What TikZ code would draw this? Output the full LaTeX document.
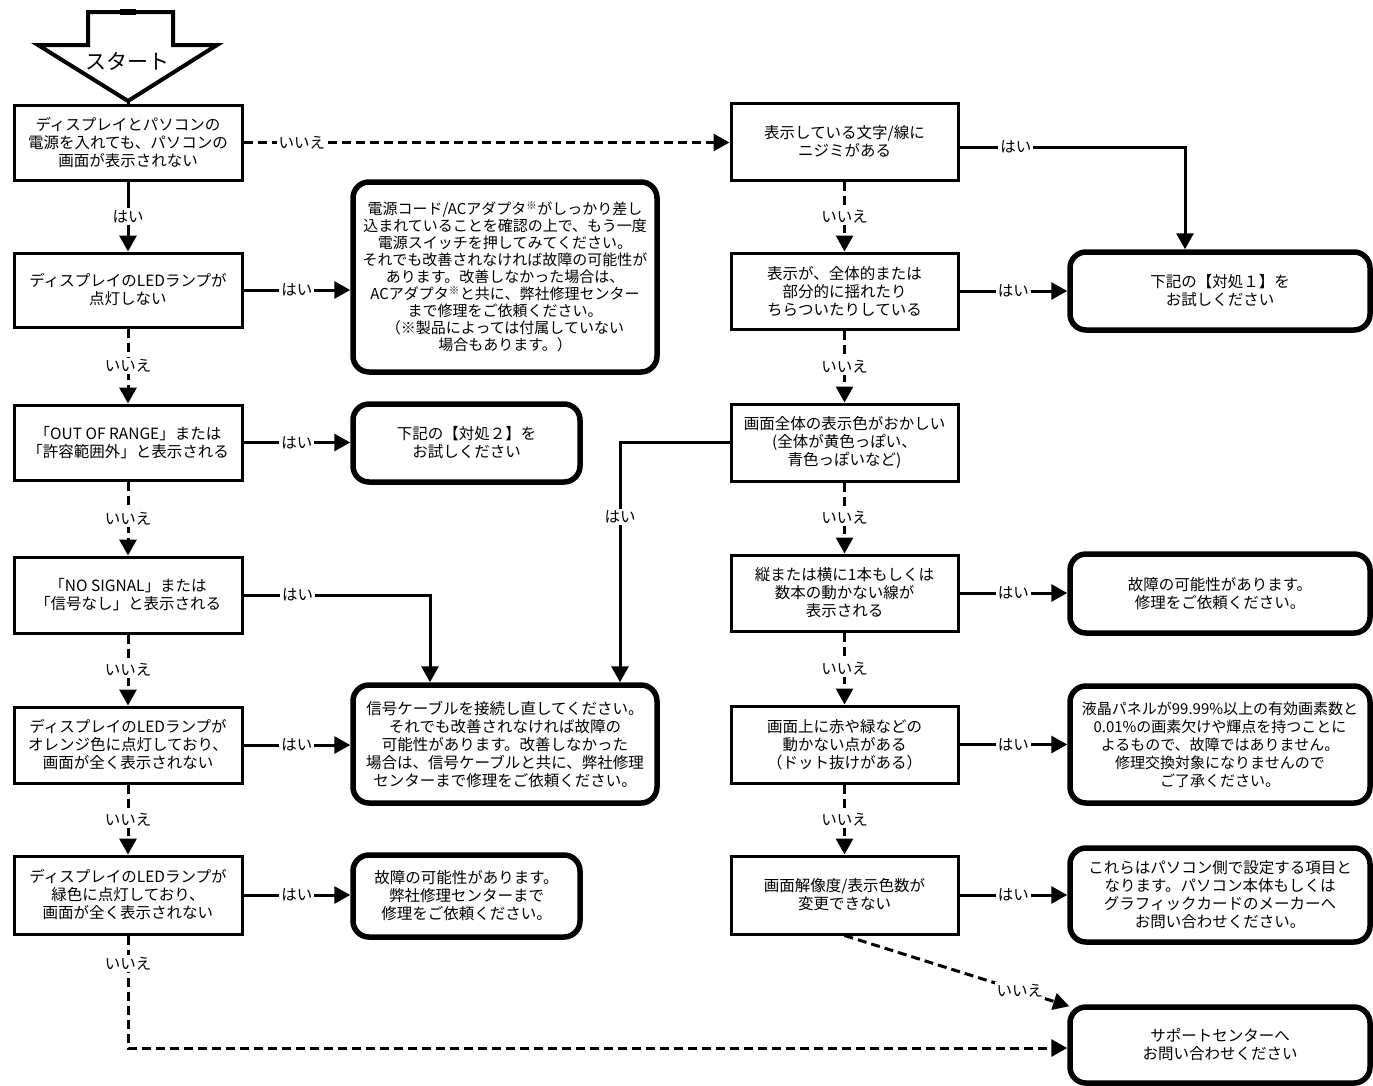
\documentclass[tikz,border=0pt]{standalone}
\usepackage{fontspec}
\setmainfont{Noto Sans CJK JP}
\usetikzlibrary{arrows.meta,calc}
\begin{document}
\begin{tikzpicture}[x=1pt,y=-1pt,
  every node/.style={font=\fontsize{15.5}{18}\selectfont, align=center},
  qbox/.style={draw, line width=3pt, rectangle, inner sep=2pt},
  rbox/.style={draw, line width=5.5pt, rectangle, rounded corners=16pt, inner sep=2pt},
  lbl/.style={fill=white, inner sep=2pt},
  conn/.style={line width=3pt, -{Triangle[length=16pt,width=17pt]}},
  plain/.style={line width=3pt},
  dconn/.style={line width=3pt, dash pattern=on 9pt off 5pt, -{Triangle[length=16pt,width=17pt]}}
]
\useasboundingbox (0,0) rectangle (1373,1085);
% start arrow
\draw[line width=4pt, line join=miter] (88,12) -- (173,12) -- (173,45) -- (217,45) -- (128,101) -- (38,45) -- (88,45) -- cycle;
\draw[line width=6pt] (120,12) -- (136,12);
\node[font=\fontsize{21}{24}\selectfont] (start) at (127,61) {スタート};
\coordinate (tip) at (128,101);

% left column
\node[qbox, minimum width=228, minimum height=75] (b1) at (128,142.5) {ディスプレイとパソコンの\\電源を入れても、パソコンの\\画面が表示されない};
\node[qbox, minimum width=228, minimum height=74] (b2) at (128,290) {ディスプレイのLEDランプが\\点灯しない};
\node[qbox, minimum width=228, minimum height=75] (b3) at (128,442.5) {「OUT OF RANGE」または\\「許容範囲外」と表示される};
\node[qbox, minimum width=228, minimum height=76] (b4) at (128,595) {「NO SIGNAL」または\\「信号なし」と表示される};
\node[qbox, minimum width=228, minimum height=76] (b5) at (128,745) {ディスプレイのLEDランプが\\オレンジ色に点灯しており、\\画面が全く表示されない};
\node[qbox, minimum width=228, minimum height=78] (b6) at (128,895) {ディスプレイのLEDランプが\\緑色に点灯しており、\\画面が全く表示されない};

% middle results
\node[rbox, minimum width=304, minimum height=190, font=\fontsize{15}{17}\selectfont] (p1) at (505,277) {電源コード/ACアダプタ\textsuperscript{※}がしっかり差し\\込まれていることを確認の上で、もう一度\\電源スイッチを押してみてください。\\それでも改善されなければ故障の可能性が\\あります。改善しなかった場合は、\\ACアダプタ\textsuperscript{※}と共に、弊社修理センター\\まで修理をご依頼ください。\\（※製品によっては付属していない\\場合もあります。）};
\node[rbox, minimum width=227, minimum height=78] (p2) at (466.5,443) {下記の【対処２】を\\お試しください};
\node[rbox, minimum width=304, minimum height=118] (p3) at (505,744) {信号ケーブルを接続し直してください。\\それでも改善されなければ故障の\\可能性があります。改善しなかった\\場合は、信号ケーブルと共に、弊社修理\\センターまで修理をご依頼ください。};
\node[rbox, minimum width=227, minimum height=82] (p4) at (466.5,896) {故障の可能性があります。\\弊社修理センターまで\\修理をご依頼ください。};

% right column
\node[qbox, minimum width=227, minimum height=77] (r1) at (844.5,141.5) {表示している文字/線に\\ニジミがある};
\node[qbox, minimum width=227, minimum height=76] (r2) at (844.5,291) {表示が、全体的または\\部分的に揺れたり\\ちらついたりしている};
\node[qbox, minimum width=227, minimum height=77] (r3) at (844.5,442.5) {画面全体の表示色がおかしい\\(全体が黄色っぽい、\\青色っぽいなど)};
\node[qbox, minimum width=227, minimum height=76] (r4) at (844.5,593) {縦または横に1本もしくは\\数本の動かない線が\\表示される};
\node[qbox, minimum width=227, minimum height=77] (r5) at (844.5,744.5) {画面上に赤や緑などの\\動かない点がある\\（ドット抜けがある）};
\node[qbox, minimum width=227, minimum height=78] (r6) at (844.5,895) {画面解像度/表示色数が\\変更できない};

% right results
\node[rbox, minimum width=300, minimum height=78] (q1) at (1220,291) {下記の【対処１】を\\お試しください};
\node[rbox, minimum width=300, minimum height=79] (q2) at (1220,593.5) {故障の可能性があります。\\修理をご依頼ください。};
\node[rbox, minimum width=300, minimum height=117, font=\fontsize{15}{18}\selectfont] (q3) at (1220,744.5) {液晶パネルが99.99\%以上の有効画素数と\\0.01\%の画素欠けや輝点を持つことに\\よるもので、故障ではありません。\\修理交換対象になりませんので\\ご了承ください。};
\node[rbox, minimum width=300, minimum height=94] (q4) at (1220,895) {これらはパソコン側で設定する項目と\\なります。パソコン本体もしくは\\グラフィックカードのメーカーへ\\お問い合わせください。};
\node[rbox, minimum width=300, minimum height=76] (q5) at (1220,1045) {サポートセンターへ\\お問い合わせください};

% helper coordinates
\coordinate (c1) at (620,442.5);
\coordinate (c2) at (430,595);
\coordinate (c3) at (1185,147);
\coordinate (c4) at (128,1048);

% connectors left column
\draw[plain] (tip) -- (b1.north);
\draw[conn] (b1.south) -- node[lbl]{はい} (b2.north);
\draw[dconn] (b2.south) -- node[lbl]{いいえ} (b3.north);
\draw[dconn] (b3.south) -- node[lbl]{いいえ} (b4.north);
\draw[dconn] (b4.south) -- node[lbl]{いいえ} (b5.north);
\draw[dconn] (b5.south) -- node[lbl]{いいえ} (b6.south |- b6.north);
\draw[dconn] (b6.south) -- node[lbl,pos=0.25]{いいえ} (c4) -- (c4 -| q5.west);
\draw[dconn] (b1.east) -- node[lbl,pos=0.12]{いいえ} (b1.east -| r1.west);

\draw[conn] (b2.east) -- node[lbl]{はい} (b2.east -| p1.west);
\draw[conn] (b3.east) -- node[lbl]{はい} (b3.east -| p2.west);
\draw[conn] (b4.east) -- node[lbl,pos=0.29]{はい} (c2) -- (c2 |- p3.north);
\draw[conn] (b5.east) -- node[lbl]{はい} (b5.east -| p3.west);
\draw[conn] (b6.east) -- node[lbl]{はい} (b6.east -| p4.west);

% connectors right column
\draw[conn] ([yshift=-5.5pt]r1.east) -- node[lbl,pos=0.25]{はい} (c3) -- (c3 |- q1.north);
\draw[dconn] (r1.south) -- node[lbl]{いいえ} (r2.north);
\draw[conn] (r2.east) -- node[lbl]{はい} (r2.east -| q1.west);
\draw[dconn] (r2.south) -- node[lbl]{いいえ} (r3.north);
\draw[conn] (r3.west) -- (c1) -- node[lbl,pos=0.31]{はい} (c1 |- p3.north);
\draw[dconn] (r3.south) -- node[lbl]{いいえ} (r4.north);
\draw[conn] (r4.east) -- node[lbl]{はい} (r4.east -| q2.west);
\draw[dconn] (r4.south) -- node[lbl]{いいえ} (r5.north);
\draw[conn] (r5.east) -- node[lbl]{はい} (r5.east -| q3.west);
\draw[dconn] (r5.south) -- node[lbl]{いいえ} (r6.north);
\draw[conn] (r6.east) -- node[lbl]{はい} (r6.east -| q4.west);
\draw[dconn] (r6.south) -- node[lbl,pos=0.78]{いいえ} ([shift={(2,2)}]q5.north west);
\end{tikzpicture}
\end{document}
